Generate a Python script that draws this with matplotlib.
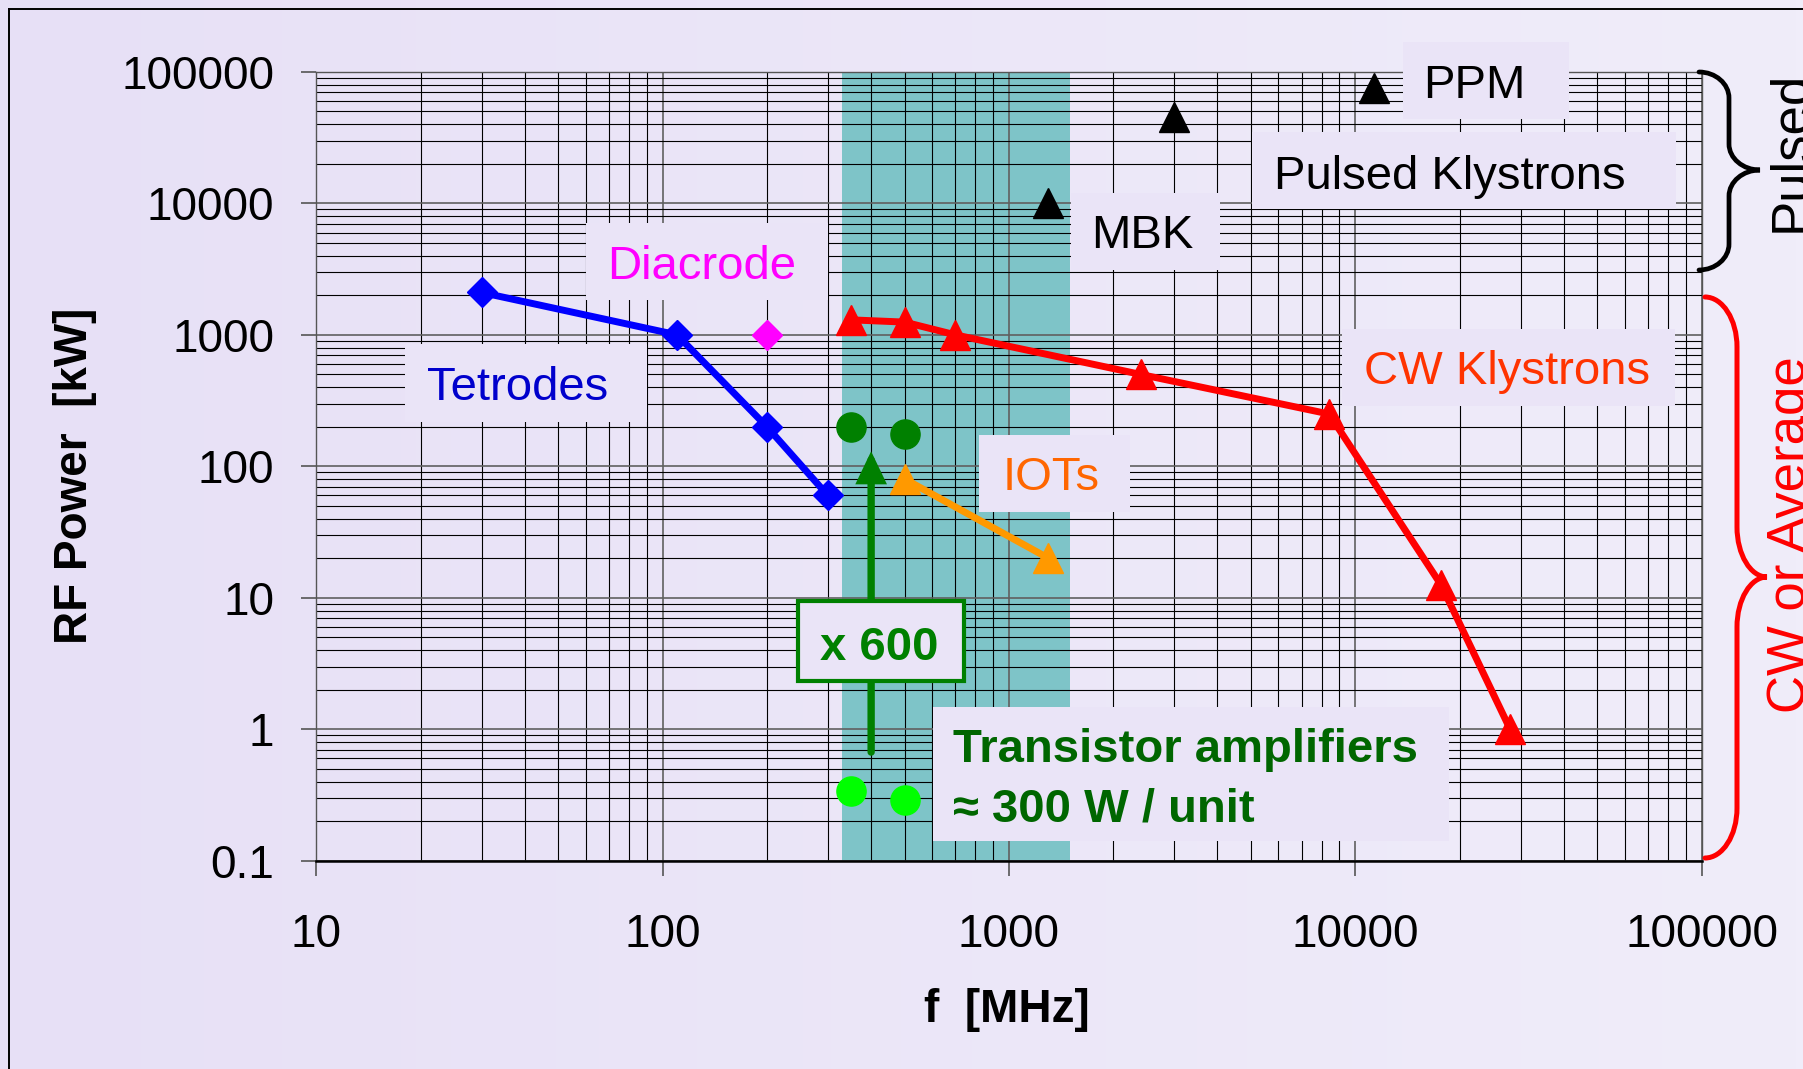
import matplotlib
matplotlib.use('Agg')
import matplotlib.pyplot as plt
import numpy as np
from matplotlib.patches import Rectangle, PathPatch
from matplotlib.path import Path
from matplotlib.transforms import Affine2D
from matplotlib.ticker import LogLocator, NullFormatter

plt.rcParams['font.family'] = ['Liberation Sans', 'DejaVu Sans']

# ---------------- data ----------------
tetrode_f = [30, 110, 200, 300]
tetrode_p = [2100, 1000, 200, 60]
diacrode_f = [200]
diacrode_p = [1000]
cw_f = [350, 500, 700, 2400, 8400, 17700, 28000]
cw_p = [1300, 1250, 1000, 500, 250, 12.5, 1]
iot_f = [500, 1300]
iot_p = [80, 20]
pulsed_f = [1300, 3000, 11300]
pulsed_p = [10000, 45000, 75000]
transistor_f = [350, 500]
transistor_p = [200, 175]
unit_f = [350, 500]
unit_p = [0.34, 0.29]
band_f = [330, 1500]
arrow_f = 400
arrow_p = [0.67, 130]

x_ticks = [10, 100, 1000, 10000, 100000]
x_ticklabels = ['10', '100', '1000', '10000', '100000']
y_ticks = [0.1, 1, 10, 100, 1000, 10000, 100000]
y_ticklabels = ['0.1', '1', '10', '100', '1000', '10000', '100000']

# ---------------- figure ----------------
W, H = 1803, 1069
fig = plt.figure(figsize=(W / 100, H / 100), dpi=100)
PX = Affine2D().scale(1 / W, -1 / H).translate(0, 1) + fig.transFigure

# background gradient
bg = fig.add_axes([0, 0, 1, 1], zorder=-10)
c_left = np.array([231, 224, 246]) / 255
c_right = np.array([240, 237, 250]) / 255
t = np.linspace(0, 1, 256)
grad = (c_left[None, :] * (1 - t[:, None]) + c_right[None, :] * t[:, None])[None, :, :]
bg.imshow(grad, aspect='auto', extent=[0, 1, 0, 1])
bg.axis('off')
# frame lines (top / left)
bg.plot([8.5 / W, 1], [1 - 8.5 / H, 1 - 8.5 / H], color='black', lw=1.4, transform=fig.transFigure)
bg.plot([8.5 / W, 8.5 / W], [1 - 8.5 / H, 0], color='black', lw=1.4, transform=fig.transFigure)

L, R, T, B = 316.3, 1701.6, 71.9, 860.7
ax = fig.add_axes([L / W, 1 - B / H, (R - L) / W, (B - T) / H])
ax.set_facecolor('none')
ax.set_xscale('log')
ax.set_yscale('log')
ax.set_xlim(10, 100000)
ax.set_ylim(0.1, 100000)
ax.set_axisbelow(True)

ax.set_xticks(x_ticks)
ax.set_xticklabels(x_ticklabels)
ax.set_yticks(y_ticks)
ax.set_yticklabels(y_ticklabels)
ax.xaxis.set_minor_locator(LogLocator(base=10, subs=np.arange(2, 10)))
ax.yaxis.set_minor_locator(LogLocator(base=10, subs=np.arange(2, 10)))
ax.xaxis.set_minor_formatter(NullFormatter())
ax.yaxis.set_minor_formatter(NullFormatter())
ax.tick_params(which='minor', length=0)
ax.tick_params(axis='x', which='major', direction='out', length=10.8, width=1.2,
               color='#555555', pad=27, labelsize=33)
ax.tick_params(axis='y', which='major', direction='out', length=10.8, width=1.2,
               color='#555555', pad=19.5, labelsize=33)
ax.grid(True, which='major', color='#606060', lw=1.2)
ax.grid(True, which='minor', color='black', lw=0.8)
for s in ['top', 'right', 'left']:
    ax.spines[s].set_color('#555555')
    ax.spines[s].set_linewidth(1.0)
ax.spines['bottom'].set_color('black')
ax.spines['bottom'].set_linewidth(1.8)

# teal band
ax.axvspan(band_f[0], band_f[1], color='#7EC4C8', zorder=0.1, lw=0)

# series
ax.plot(tetrode_f, tetrode_p, color='#0000FF', lw=5, marker='D', ms=15.5, zorder=4)
ax.plot(diacrode_f, diacrode_p, color='#FF00FF', lw=0, marker='D', ms=15.5, zorder=4)
ax.plot(cw_f, cw_p, color='#FF0000', lw=5, marker='^', ms=22, zorder=4)
ax.plot(iot_f, iot_p, color='#FF9900', lw=5, marker='^', ms=22, zorder=4)
ax.plot(pulsed_f, pulsed_p, color='black', lw=0, marker='^', ms=22, zorder=4)
ax.plot(transistor_f, transistor_p, color='#008000', lw=0, marker='o', ms=21, zorder=4)
ax.plot(unit_f, unit_p, color='#00FF00', lw=0, marker='o', ms=21, zorder=4)

# arrow
ax.annotate('', xy=(arrow_f, arrow_p[1]), xytext=(arrow_f, arrow_p[0]),
            arrowprops=dict(arrowstyle='-|>,head_length=0.75,head_width=0.36',
                            mutation_scale=20, lw=5.3, color='#008000',
                            shrinkA=0, shrinkB=0, joinstyle='miter'),
            zorder=5)

# label boxes and texts (full-size pixel layout)
BOXC = '#EAE4F7'


def fbox(x0, y0, x1, y1, fc=BOXC, ec='none', lw=0, z=6):
    ax.add_patch(Rectangle((x0, y1), x1 - x0, y0 - y1, transform=PX, clip_on=False,
                           fc=fc, ec=ec, lw=lw, zorder=z))


def ftext(x, y, s, z=7, **kw):
    ax.text(x, y, s, transform=PX, zorder=z, clip_on=False, **kw)


fbox(585.5, 223, 828.3, 300)
ftext(702, 279, 'Diacrode', color='#FF00FF', fontsize=34, ha='center', va='baseline')
fbox(405, 344, 647, 422)
ftext(518, 400, 'Tetrodes', color='#0000CC', fontsize=34, ha='center', va='baseline')
fbox(1402.8, 42, 1569, 118.6)
ftext(1474, 97.5, 'PPM', color='black', fontsize=34, ha='center', va='baseline')
fbox(1251.9, 132, 1675.7, 209)
ftext(1450, 188.7, 'Pulsed Klystrons', color='black', fontsize=34, ha='center', va='baseline')
fbox(1070.5, 193, 1220.2, 270)
ftext(1142.7, 248.3, 'MBK', color='black', fontsize=34, ha='center', va='baseline')
fbox(1342, 329, 1674.6, 405.8)
ftext(1507, 384, 'CW Klystrons', color='#FF3300', fontsize=34, ha='center', va='baseline')
fbox(979, 435, 1130, 512)
ftext(1051, 490.4, 'IOTs', color='#FF6600', fontsize=34, ha='center', va='baseline')
fbox(933.4, 706.8, 1448.8, 841)
ftext(953, 762, 'Transistor amplifiers', color='#006600', fontsize=34,
      fontweight='bold', ha='left', va='baseline')
ftext(953, 821, '\u2248 300 W / unit', color='#006600', fontsize=34,
      fontweight='bold', ha='left', va='baseline')
fbox(798, 601, 964, 681, fc=BOXC, ec='#008000', lw=3.0)
ftext(879, 660, 'x 600', color='#008000', fontsize=34, fontweight='bold',
      ha='center', va='baseline')


# curly braces
def brace(x0, xs, xt, ytop, ymid, ybot, r, color, lw):
    k = 0.55
    verts = [
        (x0, ytop),
        (x0 + k * (xs - x0), ytop), (xs, ytop + r * (1 - k)), (xs, ytop + r),
        (xs, ymid - r),
        (xs, ymid - r * (1 - k)), (xt - k * (xt - xs), ymid), (xt, ymid),
        (xt - k * (xt - xs), ymid), (xs, ymid + r * (1 - k)), (xs, ymid + r),
        (xs, ybot - r),
        (xs, ybot - r * (1 - k)), (x0 + k * (xs - x0), ybot), (x0, ybot),
    ]
    codes = [Path.MOVETO,
             Path.CURVE4, Path.CURVE4, Path.CURVE4,
             Path.LINETO,
             Path.CURVE4, Path.CURVE4, Path.CURVE4,
             Path.CURVE4, Path.CURVE4, Path.CURVE4,
             Path.LINETO,
             Path.CURVE4, Path.CURVE4, Path.CURVE4]
    ax.add_patch(PathPatch(Path(verts, codes), transform=PX, fc='none', ec=color,
                           lw=lw, clip_on=False, zorder=6, capstyle='round'))


brace(1699, 1729, 1760, 72, 170, 270, 26, 'black', 3.4)
brace(1705, 1737, 1767, 297, 577, 858, 50, '#FF0000', 3.6)

ftext(1805, 151, 'Pulsed', color='black', fontsize=38, rotation=90,
      rotation_mode='anchor', ha='center', va='baseline')
ftext(1805, 535, 'CW or Average', color='#FF0000', fontsize=38, rotation=90,
      rotation_mode='anchor', ha='center', va='baseline')

# axis titles
ftext(75, 476, 'RF Power  [kW]', color='black', fontsize=33, fontweight='bold',
      rotation=90, ha='center', va='center')
ftext(1007, 1010, 'f  [MHz]', color='black', fontsize=33, fontweight='bold',
      ha='center', va='center')

fig.savefig('out.png', dpi=100)
